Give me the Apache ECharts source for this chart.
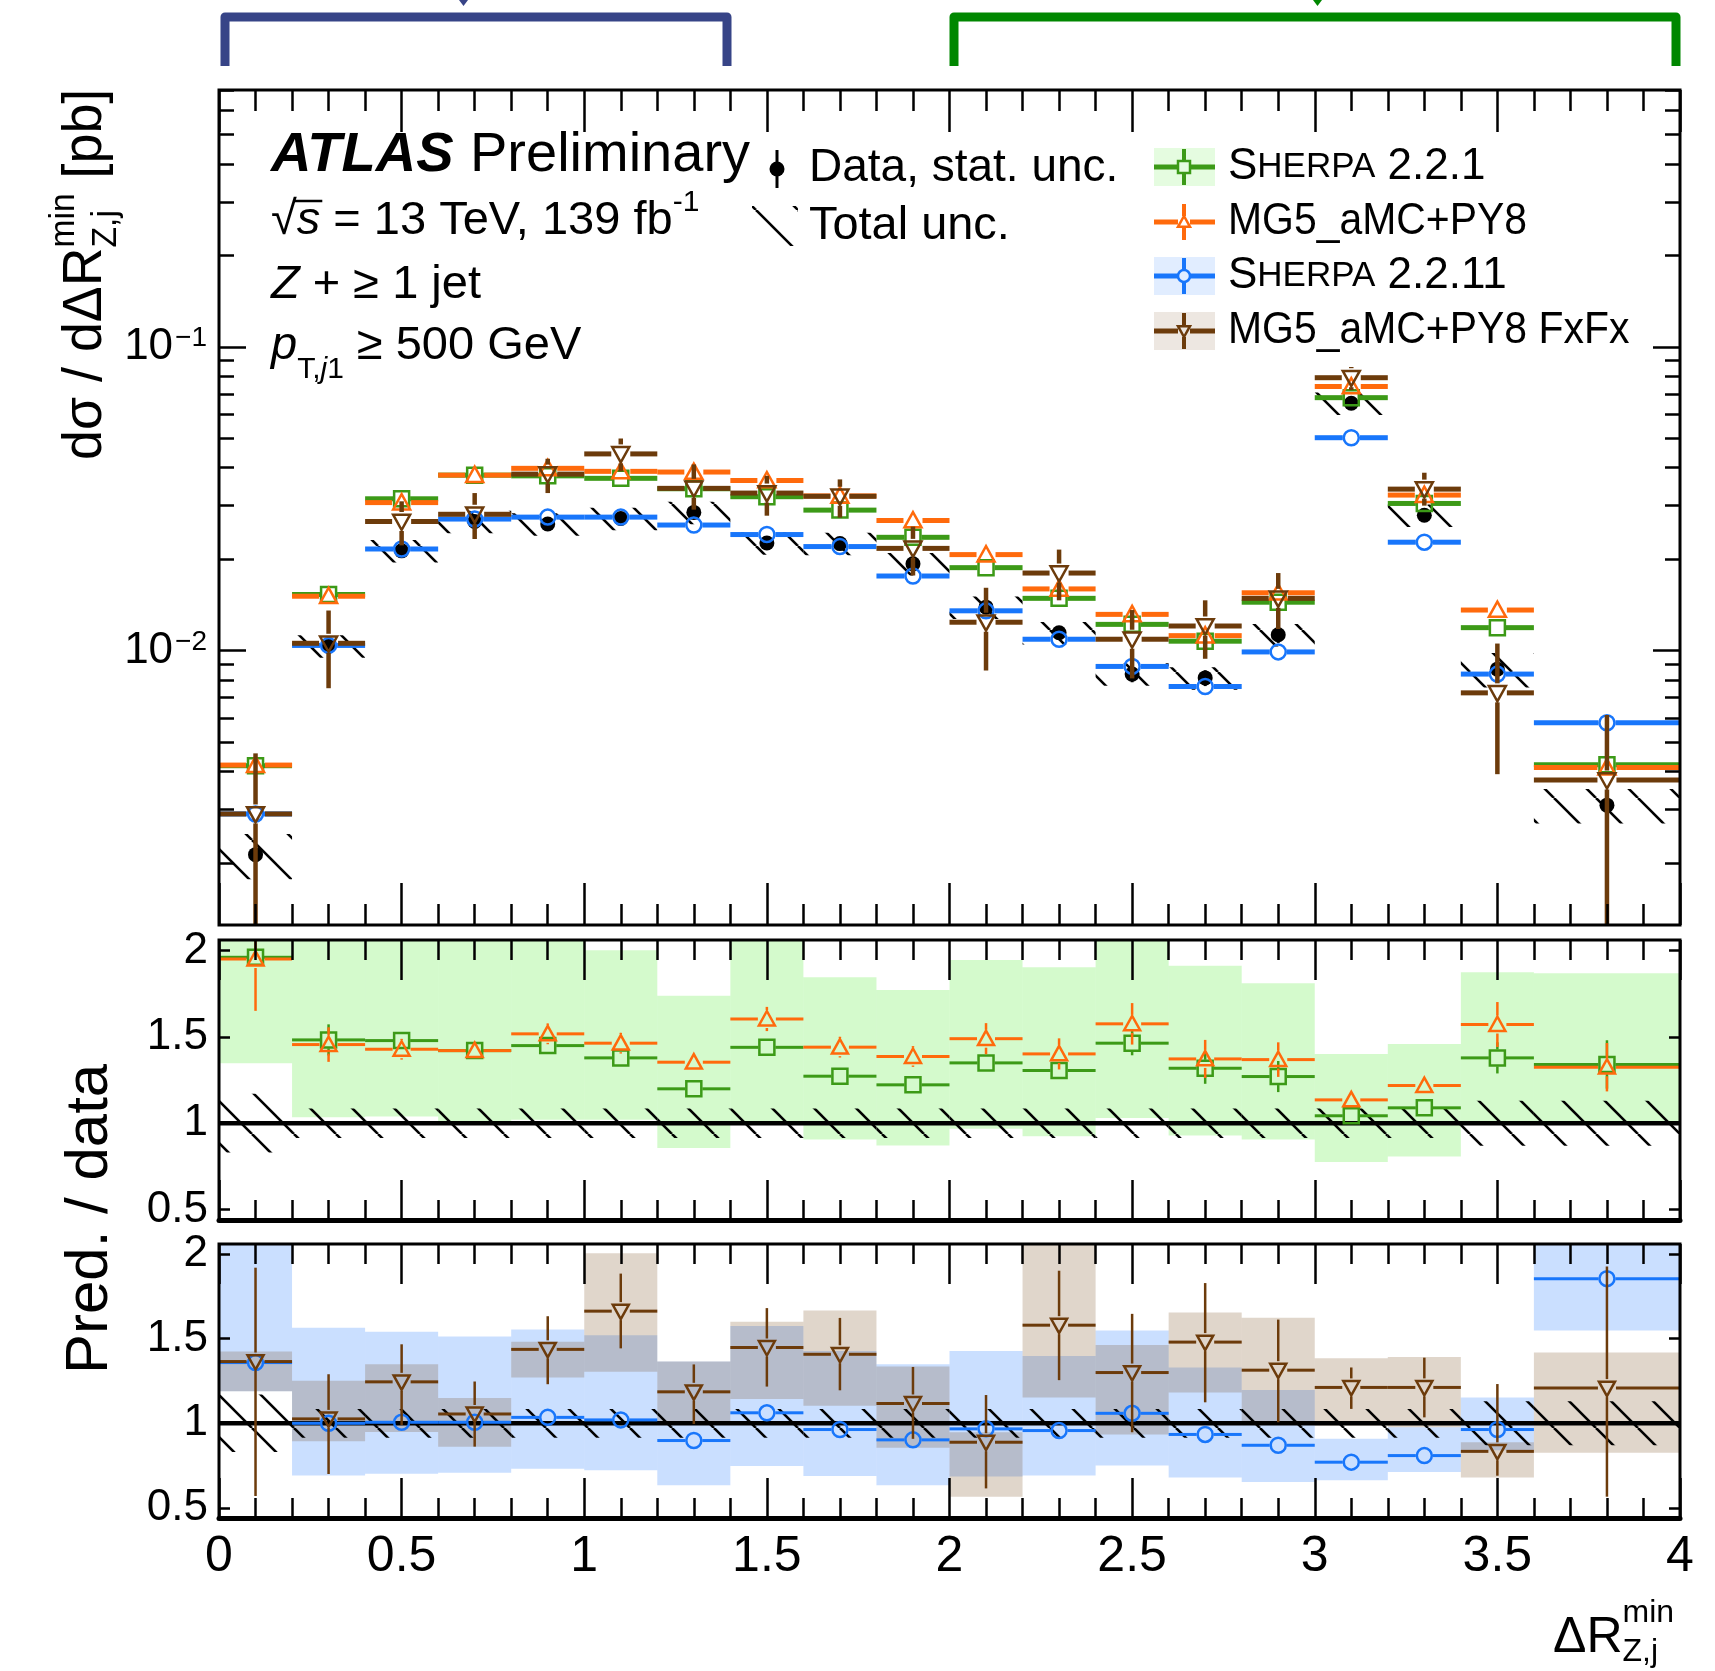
<!DOCTYPE html>
<html>
<head>
<meta charset="utf-8">
<script src="https://cdn.jsdelivr.net/npm/echarts@6/dist/echarts.min.js"></script>
<style>
html, body { margin: 0; padding: 0; background: #fff; }
#chart { width: 1715px; height: 1671px; }
</style>
</head>
<body>
<div id="chart"></div>
<script>
var FONT = '"Liberation Sans", Arial, Helvetica, sans-serif';

// bins in dR(Z,j) min
var binEdges = [0, 0.2, 0.4, 0.6, 0.8, 1.0, 1.2, 1.4, 1.6, 1.8, 2.0, 2.2, 2.4, 2.6, 2.8, 3.0, 3.2, 3.4, 3.6, 4.0];

// top panel, dsigma/dR [pb]
var dataXs   = [0.00213, 0.01035, 0.0213, 0.0266, 0.0261, 0.0272, 0.0285, 0.0226, 0.0225, 0.0193, 0.0139, 0.01145, 0.00837, 0.00813, 0.01128, 0.0652, 0.0279, 0.00869, 0.0031];
var dataStat = [0.12, 0.05, 0.03, 0.03, 0.03, 0.03, 0.03, 0.03, 0.03, 0.04, 0.05, 0.05, 0.06, 0.06, 0.06, 0.03, 0.04, 0.08, 0.12];
var totUnc   = [0.17, 0.085, 0.085, 0.085, 0.085, 0.085, 0.085, 0.085, 0.085, 0.085, 0.085, 0.085, 0.085, 0.085, 0.085, 0.085, 0.085, 0.13, 0.13];
var sh221Xs  = [0.00418, 0.0153, 0.0316, 0.0378, 0.0376, 0.0369, 0.0341, 0.0321, 0.0290, 0.0236, 0.01875, 0.01486, 0.0122, 0.01074, 0.01443, 0.0680, 0.0305, 0.0119, 0.00421];
var mg5Xs    = [0.0042, 0.0151, 0.0307, 0.0378, 0.0398, 0.0389, 0.0387, 0.0363, 0.0323, 0.0268, 0.0207, 0.01596, 0.01316, 0.0112, 0.0155, 0.074, 0.0325, 0.0136, 0.00412];
var sh2211Xs = [0.0029, 0.0104, 0.0216, 0.0271, 0.0275, 0.0275, 0.0259, 0.0241, 0.0220, 0.0176, 0.01352, 0.0109, 0.00887, 0.00762, 0.0099, 0.0502, 0.02274, 0.00837, 0.00579];
var fxfxXs   = [0.0029, 0.01057, 0.0266, 0.0281, 0.0381, 0.0444, 0.0342, 0.033, 0.0322, 0.0217, 0.0124, 0.018, 0.0109, 0.01205, 0.01486, 0.0791, 0.034, 0.00726, 0.00375];
var fxfxXsLo = [0.0011, 0.00752, 0.0222, 0.0233, 0.033, 0.0389, 0.0291, 0.0278, 0.0274, 0.01767, 0.0086, 0.01464, 0.0081, 0.0094, 0.01178, 0.072, 0.030, 0.00392, 0.0011];
var fxfxXsHi = [0.00459, 0.01355, 0.031, 0.033, 0.0428, 0.0499, 0.041, 0.0376, 0.0366, 0.0256, 0.0161, 0.0215, 0.0136, 0.01464, 0.018, 0.0858, 0.0385, 0.01055, 0.00614];

// middle panel, pred / data
var sh221Ratio    = [1.96, 1.482, 1.478, 1.42, 1.449, 1.378, 1.199, 1.439, 1.272, 1.222, 1.349, 1.305, 1.463, 1.318, 1.27, 1.043, 1.089, 1.378, 1.34];
var sh221RatioErr = [0.05, 0.09, 0.04, 0.03, 0.04, 0.03, 0.03, 0.04, 0.03, 0.03, 0.04, 0.04, 0.07, 0.09, 0.09, 0.02, 0.02, 0.09, 0.14];
var sh221BandLo   = [1.347, 1.035, 1.039, 1.01, 1.02, 1.02, 0.856, 1.0, 0.906, 0.871, 0.968, 0.925, 1.03, 0.929, 0.906, 0.775, 0.808, 0.99, 0.99];
var sh221BandHi   = [2.3, 2.3, 2.3, 2.3, 2.3, 2.0, 1.738, 2.3, 1.844, 1.771, 1.944, 1.902, 2.3, 1.911, 1.81, 1.401, 1.459, 1.873, 1.867];
var mg5Ratio      = [1.95, 1.455, 1.428, 1.42, 1.517, 1.463, 1.353, 1.603, 1.44, 1.386, 1.489, 1.401, 1.575, 1.372, 1.368, 1.135, 1.218, 1.571, 1.324];
var mg5RatioErr   = [0.3, 0.1, 0.06, 0.03, 0.06, 0.06, 0.05, 0.07, 0.06, 0.06, 0.09, 0.09, 0.12, 0.11, 0.1, 0.04, 0.05, 0.13, 0.14];

// bottom panel, pred / data
var sh2211Ratio    = [1.359, 1.0, 1.006, 1.006, 1.035, 1.02, 0.898, 1.062, 0.963, 0.902, 0.967, 0.957, 1.059, 0.934, 0.87, 0.77, 0.809, 0.963, 1.855];
var sh2211RatioErr = [0.05, 0.03, 0.02, 0.02, 0.02, 0.02, 0.02, 0.02, 0.02, 0.02, 0.03, 0.03, 0.04, 0.03, 0.04, 0.02, 0.02, 0.03, 0.03];
var sh2211BandLo   = [1.19, 0.692, 0.702, 0.708, 0.731, 0.722, 0.634, 0.747, 0.689, 0.634, 0.686, 0.692, 0.751, 0.68, 0.653, 0.663, 0.712, 0.84, 1.549];
var sh2211BandHi   = [2.3, 1.565, 1.541, 1.513, 1.555, 1.52, 1.365, 1.575, 1.428, 1.349, 1.428, 1.398, 1.549, 1.33, 1.197, 0.908, 0.977, 1.153, 2.3];
var fxfxRatio      = [1.365, 1.026, 1.245, 1.055, 1.437, 1.663, 1.186, 1.448, 1.408, 1.117, 0.888, 1.58, 1.3, 1.48, 1.314, 1.212, 1.212, 0.834, 1.208];
var fxfxRatioLo    = [0.57, 0.70, 0.99, 0.862, 1.231, 1.443, 0.996, 1.217, 1.195, 0.908, 0.615, 1.255, 0.947, 1.124, 1.006, 1.085, 1.035, 0.69, 0.566];
var fxfxRatioHi    = [1.92, 1.29, 1.467, 1.247, 1.633, 1.885, 1.348, 1.681, 1.623, 1.333, 1.167, 1.902, 1.647, 1.829, 1.613, 1.33, 1.388, 1.232, 1.927];
var fxfxBandLo     = [1.19, 0.894, 0.948, 0.861, 1.27, 1.304, 1.0, 1.143, 1.104, 0.855, 0.565, 1.153, 0.934, 1.182, 0.996, 0.985, 0.977, 0.679, 0.826];
var fxfxBandHi     = [1.425, 1.251, 1.349, 1.149, 1.482, 2.006, 1.365, 1.6, 1.667, 1.335, 0.947, 2.3, 1.463, 1.655, 1.624, 1.385, 1.392, 0.888, 1.418];

// ticks
var logMajor = [0.01, 0.1];
var logMinor = [0.002, 0.003, 0.004, 0.005, 0.006, 0.007, 0.008, 0.009,
                0.02, 0.03, 0.04, 0.05, 0.06, 0.07, 0.08, 0.09,
                0.2, 0.3, 0.4, 0.5, 0.6, 0.7];
var ratioTicks = [0.5, 1, 1.5, 2];

var C_SH221 = '#3c9a17', C_MG5 = '#ff6a0c', C_SH2211 = '#1876fb', C_FXFX = '#6c3b0b';
var F_SH221 = 'rgba(40,230,0,0.2)', F_SH2211 = 'rgba(26,117,255,0.23)', F_FXFX = 'rgba(110,60,10,0.21)';

// hatch pattern for total unc.
var hatch = (function () {
  var s = 42, c = document.createElement('canvas');
  c.width = s; c.height = s;
  var g = c.getContext('2d');
  g.strokeStyle = '#000'; g.lineWidth = 2.6;
  for (var k = -1; k <= 1; k++) {
    g.beginPath(); g.moveTo(k * s, 0); g.lineTo(k * s + s, s); g.stroke();
  }
  return c;
})();

var nb = binEdges.length - 1;
function xc(i) { return (binEdges[i] + binEdges[i + 1]) / 2; }

function markerShape(kind, x, y, s, color) {
  var h = s / 2, st = { stroke: color, lineWidth: 2.5, fill: 'none' };
  if (kind === 'dot') return { type: 'circle', shape: { cx: x, cy: y, r: h }, style: { fill: color } };
  if (kind === 'circle') return { type: 'circle', shape: { cx: x, cy: y, r: h }, style: st };
  if (kind === 'square') return { type: 'rect', shape: { x: x - h, y: y - h, width: s, height: s }, style: st };
  if (kind === 'up') return { type: 'polygon', shape: { points: [[x, y - h], [x + h, y + h * 0.8], [x - h, y + h * 0.8]] }, style: st };
  return { type: 'polygon', shape: { points: [[x, y + h], [x + h, y - h * 0.8], [x - h, y - h * 0.8]] }, style: st };
}

// horizontal bin line + vertical error + marker
function binMarks(color, kind, size, lw, elw, hbar) {
  return function (params, api) {
    var x = api.value(0), y = api.value(1);
    var c = api.coord([x, y]);
    var g = kind === 'dot' ? 0 : size / 2 + 1;
    var ch = [];
    var ls = { stroke: color, lineWidth: lw };
    if (hbar) {
      var l = api.coord([api.value(2), y]), r = api.coord([api.value(3), y]);
      ch.push({ type: 'line', shape: { x1: l[0], y1: c[1], x2: c[0] - g, y2: c[1] }, style: ls });
      ch.push({ type: 'line', shape: { x1: c[0] + g, y1: c[1], x2: r[0], y2: c[1] }, style: ls });
    }
    var lo = api.coord([x, api.value(4)]), hi = api.coord([x, api.value(5)]);
    var es = { stroke: color, lineWidth: elw };
    if (hi[1] < c[1] - g) ch.push({ type: 'line', shape: { x1: c[0], y1: hi[1], x2: c[0], y2: c[1] - g }, style: es });
    if (lo[1] > c[1] + g) ch.push({ type: 'line', shape: { x1: c[0], y1: c[1] + g, x2: c[0], y2: lo[1] }, style: es });
    ch.push(markerShape(kind, c[0], c[1], size, color));
    return { type: 'group', children: ch };
  };
}

function boxItem(fill) {
  return function (params, api) {
    var a = api.coord([api.value(0), api.value(3)]);
    var b = api.coord([api.value(1), api.value(2)]);
    return { type: 'rect', shape: { x: a[0], y: a[1], width: b[0] - a[0], height: b[1] - a[1] }, style: { fill: fill } };
  };
}

function markRows(vals, lo, hi) {
  var out = [];
  for (var i = 0; i < nb; i++) out.push([xc(i), vals[i], binEdges[i], binEdges[i + 1], lo[i], hi[i]]);
  return out;
}
function boxRows(lo, hi) {
  var out = [];
  for (var i = 0; i < nb; i++) out.push([binEdges[i], binEdges[i + 1], lo[i], hi[i]]);
  return out;
}

function markSeries(grid, yIdx, rows, color, kind, size, lw, elw, hbar, z) {
  return {
    type: 'custom', xAxisIndex: grid * 2, yAxisIndex: yIdx, clip: true, z: z || 5, silent: true,
    encode: { x: [0, 2, 3], y: [1, 4, 5] },
    renderItem: binMarks(color, kind, size, lw, elw, hbar), data: rows
  };
}
function boxSeries(grid, yIdx, rows, fill, z) {
  return {
    type: 'custom', xAxisIndex: grid * 2, yAxisIndex: yIdx, clip: true, z: z, silent: true,
    encode: { x: [0, 1], y: [2, 3] },
    renderItem: boxItem(fill), data: rows
  };
}

var hatchFill = { image: hatch, repeat: 'repeat' };
var dataLo = dataXs.map(function (v, i) { return v * (1 - dataStat[i]); });
var dataHi = dataXs.map(function (v, i) { return v * (1 + dataStat[i]); });
var totLo = dataXs.map(function (v, i) { return v * (1 - totUnc[i]); });
var totHi = dataXs.map(function (v, i) { return v * (1 + totUnc[i]); });
var rTotLo = totUnc.map(function (u) { return 1 - u; });
var rTotHi = totUnc.map(function (u) { return 1 + u; });
function minus(v, e) { return v.map(function (x, i) { return x - e[i]; }); }
function plus(v, e) { return v.map(function (x, i) { return x + e[i]; }); }

var series = [
  // top panel
  boxSeries(0, 0, boxRows(totLo, totHi), hatchFill, 2),
  markSeries(0, 0, markRows(dataXs, dataLo, dataHi), '#000', 'dot', 15, 3, 3, false, 4),
  markSeries(0, 0, markRows(sh221Xs, sh221Xs, sh221Xs), C_SH221, 'square', 15, 5, 4, true, 5),
  markSeries(0, 0, markRows(mg5Xs, mg5Xs, mg5Xs), C_MG5, 'up', 17, 5, 4, true, 5),
  markSeries(0, 0, markRows(sh2211Xs, sh2211Xs, sh2211Xs), C_SH2211, 'circle', 15, 5, 4, true, 5),
  markSeries(0, 0, markRows(fxfxXs, fxfxXsLo, fxfxXsHi), C_FXFX, 'down', 17, 5, 4.5, true, 6),
  // middle panel
  boxSeries(1, 4, boxRows(sh221BandLo, sh221BandHi), F_SH221, 1),
  boxSeries(1, 4, boxRows(rTotLo, rTotHi), hatchFill, 2),
  { type: 'line', xAxisIndex: 2, yAxisIndex: 4, data: [[0, 1], [4, 1]], showSymbol: false, silent: true, z: 3,
    lineStyle: { color: '#000', width: 4.5 } },
  markSeries(1, 4, markRows(sh221Ratio, minus(sh221Ratio, sh221RatioErr), plus(sh221Ratio, sh221RatioErr)), C_SH221, 'square', 15, 3, 2.5, true, 5),
  markSeries(1, 4, markRows(mg5Ratio, minus(mg5Ratio, mg5RatioErr), plus(mg5Ratio, mg5RatioErr)), C_MG5, 'up', 16, 3, 2.5, true, 5),
  // bottom panel
  boxSeries(2, 6, boxRows(sh2211BandLo, sh2211BandHi), F_SH2211, 1),
  boxSeries(2, 6, boxRows(fxfxBandLo, fxfxBandHi), F_FXFX, 1),
  boxSeries(2, 6, boxRows(rTotLo, rTotHi), hatchFill, 2),
  { type: 'line', xAxisIndex: 4, yAxisIndex: 6, data: [[0, 1], [4, 1]], showSymbol: false, silent: true, z: 3,
    lineStyle: { color: '#000', width: 4.5 } },
  markSeries(2, 6, markRows(sh2211Ratio, minus(sh2211Ratio, sh2211RatioErr), plus(sh2211Ratio, sh2211RatioErr)), C_SH2211, 'circle', 15, 3, 2.5, true, 5),
  markSeries(2, 6, markRows(fxfxRatio, fxfxRatioLo, fxfxRatioHi), C_FXFX, 'down', 16, 3, 2.5, true, 6)
];

// axes
var tickStyle = { color: '#000', width: 2.5 };
function xAxisCfg(g, pos, major, minor, lineW, labels) {
  return {
    type: 'value', gridIndex: g, position: pos, min: 0, max: 4, interval: 0.5, z: 10,
    axisLine: { show: lineW > 0, onZero: false, lineStyle: { color: '#000', width: lineW } },
    axisTick: { show: true, inside: true, length: major, lineStyle: tickStyle },
    minorTick: { show: true, splitNumber: 5, length: minor, lineStyle: tickStyle },
    splitLine: { show: false }, minorSplitLine: { show: false },
    axisLabel: { show: labels, fontSize: 50, fontFamily: FONT, color: '#000', margin: 14 }
  };
}
var xAxes = [
  xAxisCfg(0, 'bottom', 42, 21, 0, false), xAxisCfg(0, 'top', 42, 21, 0, false),
  xAxisCfg(1, 'bottom', 40, 20, 5, false), xAxisCfg(1, 'top', 40, 20, 0, false),
  xAxisCfg(2, 'bottom', 40, 20, 5, true), xAxisCfg(2, 'top', 40, 20, 0, false)
];

function logAxis(pos, values, len, labels) {
  return {
    type: 'log', logBase: 10, gridIndex: 0, position: pos, min: 0.00125, max: 0.7, z: 10,
    axisLine: { show: false, onZero: false },
    axisTick: { show: true, inside: true, length: len, customValues: values, lineStyle: tickStyle },
    splitLine: { show: false },
    axisLabel: {
      show: labels, customValues: logMajor, margin: 12,
      formatter: function (v) { return '{b|10}{s|\u2212' + Math.round(-Math.log10(v)) + '}'; },
      rich: {
        b: { fontSize: 44, fontFamily: FONT, color: '#000' },
        s: { fontSize: 28, fontFamily: FONT, color: '#000', verticalAlign: 'top', padding: [0, 0, 0, 2] }
      }
    }
  };
}
function ratioAxis(g, pos, labels) {
  return {
    type: 'value', gridIndex: g, position: pos, min: 0.44, max: 2.06, z: 10,
    axisLine: { show: false, onZero: false },
    axisTick: { show: true, inside: true, length: 11, customValues: ratioTicks, lineStyle: tickStyle },
    splitLine: { show: false },
    axisLabel: { show: labels, customValues: ratioTicks, fontSize: 44, fontFamily: FONT, color: '#000', margin: 11 }
  };
}
var yAxes = [
  logAxis('left', logMajor, 27, true), logAxis('right', logMajor, 27, false),
  logAxis('left', logMinor, 15, false), logAxis('right', logMinor, 15, false),
  ratioAxis(1, 'left', true), ratioAxis(1, 'right', false),
  ratioAxis(2, 'left', true), ratioAxis(2, 'right', false)
];

// free text, laid out piece by piece
var mctx = document.createElement('canvas').getContext('2d');
function fontStr(p) {
  return (p.italic ? 'italic ' : '') + (p.bold ? 'bold ' : '') + p.size + 'px ' + FONT;
}
function textRun(x, y, pieces, sx) {
  var out = [], cx = x;
  sx = sx || 1;
  pieces.forEach(function (p) {
    var f = fontStr(p);
    mctx.font = f;
    out.push({ type: 'text', x: cx, y: y + (p.dy || 0), z: 20, scaleX: sx,
      style: { text: p.t, font: f, fill: '#000', align: 'left', verticalAlign: 'middle' } });
    cx += ((p.w !== undefined) ? p.w : mctx.measureText(p.t).width) * sx;
  });
  return out;
}
function widthOf(t, size, italic) { mctx.font = fontStr({ size: size, italic: italic }); return mctx.measureText(t).width; }

var gfx = [];
function add(list) { list.forEach(function (e) { gfx.push(e); }); }

// brackets above the frame
gfx.push({ type: 'polyline', z: 20, shape: { points: [[225, 66], [225, 17], [727, 17], [727, 66]] },
  style: { stroke: '#374487', lineWidth: 9, fill: 'none', lineJoin: 'round' } });
gfx.push({ type: 'polygon', z: 20, shape: { points: [[459, 0], [468, 0], [463.5, 6]] }, style: { fill: '#374487' } });
gfx.push({ type: 'polyline', z: 20, shape: { points: [[954, 66], [954, 17], [1676, 17], [1676, 66]] },
  style: { stroke: '#008700', lineWidth: 9, fill: 'none', lineJoin: 'round' } });
gfx.push({ type: 'polygon', z: 20, shape: { points: [[1313, 0], [1322, 0], [1317.5, 6]] }, style: { fill: '#008700' } });

// ATLAS label block
add(textRun(271, 156, [{ t: 'ATLAS', size: 56, italic: true, bold: true }]));
add(textRun(470, 156, [{ t: 'Preliminary', size: 56 }]));
var sq = widthOf('\u221a', 47);
add(textRun(271, 221, [{ t: '\u221a', size: 47 }, { t: 's', size: 47, italic: true }, { t: ' = 13 TeV, 139 fb', size: 47 }, { t: '-1', size: 30, dy: -18 }]));
gfx.push({ type: 'line', z: 20, shape: { x1: 271 + sq - 3, y1: 201, x2: 271 + sq + widthOf('s', 47, true) + 2, y2: 201 },
  style: { stroke: '#000', lineWidth: 2.5 } });
add(textRun(271, 285, [{ t: 'Z', size: 47, italic: true }, { t: ' + \u2265 1 jet', size: 47 }]));
add(textRun(271, 346, [{ t: 'p', size: 47, italic: true }, { t: 'T,', size: 30, dy: 24 }, { t: 'j', size: 30, italic: true, dy: 24 }, { t: '1', size: 30, dy: 24 }, { t: ' \u2265 500 GeV', size: 47 }]));

// legend, left column
gfx.push({ type: 'line', z: 20, shape: { x1: 777, y1: 150, x2: 777, y2: 188 }, style: { stroke: '#000', lineWidth: 3 } });
gfx.push(markerShape('dot', 777, 169, 15, '#000'));
add(textRun(809, 168, [{ t: 'Data, stat. unc.', size: 46 }]));
gfx.push({ type: 'rect', z: 20, shape: { x: 752, y: 206, width: 46, height: 40 }, style: { fill: hatchFill } });
add(textRun(809, 226, [{ t: 'Total unc.', size: 46 }], 1.02));

// legend, right column
var legRows = [
  { y: 167, c: C_SH221, f: 'rgba(40,230,0,0.12)', m: 'square', sx: 1, name: [{ t: 'S', size: 44 }, { t: 'HERPA', size: 35 }, { t: ' 2.2.1', size: 44 }] },
  { y: 222, c: C_MG5, f: null, m: 'up', sx: 0.93, name: [{ t: 'MG5_aMC+PY8', size: 44 }] },
  { y: 276, c: C_SH2211, f: 'rgba(26,117,255,0.13)', m: 'circle', sx: 1, name: [{ t: 'S', size: 44 }, { t: 'HERPA', size: 35 }, { t: ' 2.2.11', size: 44 }] },
  { y: 331, c: C_FXFX, f: 'rgba(110,60,10,0.12)', m: 'down', sx: 0.93, name: [{ t: 'MG5_aMC+PY8 FxFx', size: 44 }] }
];
legRows.forEach(function (r) {
  if (r.f) gfx.push({ type: 'rect', z: 19, shape: { x: 1154, y: r.y - 19, width: 61, height: 38 }, style: { fill: r.f } });
  gfx.push({ type: 'line', z: 20, shape: { x1: 1154, y1: r.y, x2: 1178, y2: r.y }, style: { stroke: r.c, lineWidth: 5 } });
  gfx.push({ type: 'line', z: 20, shape: { x1: 1190, y1: r.y, x2: 1215, y2: r.y }, style: { stroke: r.c, lineWidth: 5 } });
  gfx.push({ type: 'line', z: 20, shape: { x1: 1184, y1: r.y - 18, x2: 1184, y2: r.y - 6 }, style: { stroke: r.c, lineWidth: 4 } });
  gfx.push({ type: 'line', z: 20, shape: { x1: 1184, y1: r.y + 6, x2: 1184, y2: r.y + 18 }, style: { stroke: r.c, lineWidth: 4 } });
  var mk = markerShape(r.m, 1184, r.y, 12, r.c); mk.z = 20;
  gfx.push(mk);
  add(textRun(1228, r.y, r.name, r.sx));
});

// axis titles
var minW = widthOf('min', 35), zjW = widthOf('Z,j', 35);
gfx.push({ type: 'group', x: 86, y: 460, rotation: Math.PI / 2,
  children: textRun(0, 0, [{ t: 'd\u03c3 / d\u0394R', size: 56 }, { t: 'min', size: 35, dy: -22, w: 0 },
    { t: 'Z,j', size: 35, dy: 20, w: Math.max(minW, zjW) }, { t: ' [pb]', size: 56 }], 0.96) });
gfx.push({ type: 'group', x: 90, y: 1374, rotation: Math.PI / 2,
  children: textRun(0, 0, [{ t: 'Pred. / data', size: 60 }]) });
var mW = widthOf('min', 32), zW = widthOf('Z,j', 32);
add(textRun(1553, 1638, [{ t: '\u0394R', size: 50 }, { t: 'min', size: 32, dy: -25, w: 0 }, { t: 'Z,j', size: 32, dy: 14, w: Math.max(mW, zW) }]));

var chart = echarts.init(document.getElementById('chart'));
chart.setOption({
  animation: false,
  backgroundColor: '#fff',
  grid: [
    { left: 219, top: 90, width: 1461, height: 835, show: true, borderColor: '#000', borderWidth: 3, z: 10 },
    { left: 219, top: 940, width: 1461, height: 280, show: true, borderColor: '#000', borderWidth: 3, z: 10 },
    { left: 219, top: 1244, width: 1461, height: 274, show: true, borderColor: '#000', borderWidth: 3, z: 10 }
  ],
  xAxis: xAxes,
  yAxis: yAxes,
  series: series,
  graphic: gfx
});
</script>
</body>
</html>
